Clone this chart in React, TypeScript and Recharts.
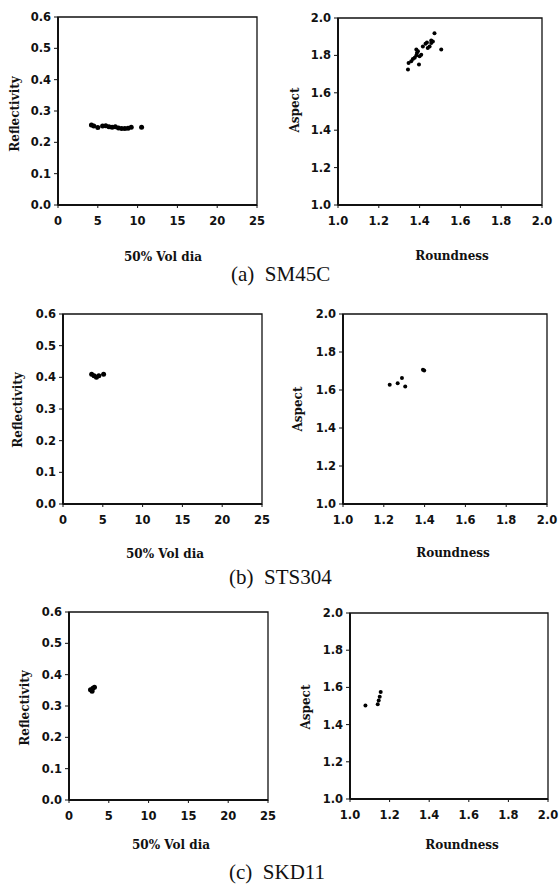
import React from 'react';
import { ScatterChart, Scatter, XAxis, YAxis, ReferenceArea } from 'recharts';

// ---- tick labels ----
const diaTicks = [0, 5, 10, 15, 20, 25];
const reflTicks = [0, 0.1, 0.2, 0.3, 0.4, 0.5, 0.6];
const roundTicks = [1.0, 1.2, 1.4, 1.6, 1.8, 2.0];
const aspectTicks = [1.0, 1.2, 1.4, 1.6, 1.8, 2.0];

// ---- (a) SM45C ----
const sm45cDia = [4.2, 4.5, 5.0, 5.6, 6.0, 6.4, 6.8, 7.2, 7.6, 8.0, 8.4, 8.8, 9.2, 10.5];
const sm45cRefl = [0.255, 0.252, 0.247, 0.252, 0.253, 0.25, 0.248, 0.25, 0.246, 0.244, 0.244, 0.245, 0.248, 0.248];
const sm45cRound = [1.343, 1.346, 1.359, 1.367, 1.376, 1.384, 1.387, 1.384, 1.397, 1.4, 1.408, 1.392, 1.416, 1.429, 1.436, 1.44, 1.449, 1.457, 1.465, 1.457, 1.473, 1.506];
const sm45cAspect = [1.725, 1.76, 1.769, 1.781, 1.787, 1.8, 1.813, 1.831, 1.751, 1.795, 1.804, 1.822, 1.848, 1.862, 1.869, 1.84, 1.848, 1.866, 1.875, 1.88, 1.919, 1.831];

// ---- (b) STS304 ----
const sts304Dia = [3.6, 3.9, 4.2, 4.5, 5.1];
const sts304Refl = [0.41, 0.405, 0.4, 0.405, 0.41];
const sts304Round = [1.229, 1.268, 1.289, 1.305, 1.392, 1.398];
const sts304Aspect = [1.628, 1.635, 1.663, 1.619, 1.707, 1.703];

// ---- (c) SKD11 ----
const skd11Dia = [2.7, 2.9, 3.0, 3.2];
const skd11Refl = [0.352, 0.347, 0.357, 0.36];
const skd11Round = [1.078, 1.14, 1.145, 1.15, 1.155];
const skd11Aspect = [1.503, 1.51, 1.53, 1.55, 1.575];

const zip = (xs: number[], ys: number[]) => xs.map((x, i) => ({ x, y: ys[i] }));

const TICK_FONT = { fontSize: 11.5, fontFamily: 'DejaVu Sans', fontWeight: 'bold', fill: '#111' } as any;
const LABEL_FONT: React.CSSProperties = {
  position: 'absolute',
  fontFamily: 'DejaVu Serif',
  fontWeight: 'bold',
  fontSize: 12,
  color: '#111',
  whiteSpace: 'nowrap',
  lineHeight: '14px',
};

type PanelProps = {
  box: [number, number, number, number];
  xDomain: [number, number];
  xTicks: number[];
  xFmt: (v: number) => string;
  yDomain: [number, number];
  yTicks: number[];
  data: { x: number; y: number }[];
  r: number;
};

function Panel({ box, xDomain, xTicks, xFmt, yDomain, yTicks, data, r }: PanelProps) {
  const [x0, y0, x1, y1] = box;
  const YW = 45;
  const XH = 30;
  const T = 8;
  const RM = 12;
  return (
    <div style={{ position: 'absolute', left: x0 - YW, top: y0 - T }}>
      <ScatterChart
        width={x1 - x0 + YW + RM}
        height={y1 - y0 + T + XH}
        margin={{ top: T, right: RM, left: 0, bottom: 0 }}
      >
        <ReferenceArea
          x1={xDomain[0]}
          x2={xDomain[1]}
          y1={yDomain[0]}
          y2={yDomain[1]}
          fill="none"
          fillOpacity={0}
          stroke="#111"
          strokeWidth={1.3}
        />
        <XAxis
          type="number"
          dataKey="x"
          domain={xDomain}
          ticks={xTicks}
          tickFormatter={xFmt}
          height={XH}
          tickSize={3}
          tickMargin={9}
          interval={0}
          axisLine={{ stroke: '#111', strokeWidth: 2 }}
          tickLine={{ stroke: '#111', strokeWidth: 1 }}
          tick={TICK_FONT}
          allowDecimals
        />
        <YAxis
          type="number"
          dataKey="y"
          domain={yDomain}
          ticks={yTicks}
          tickFormatter={(v: number) => v.toFixed(1)}
          width={YW}
          tickSize={4}
          tickMargin={3}
          interval={0}
          axisLine={{ stroke: '#111', strokeWidth: 2 }}
          tickLine={{ stroke: '#111', strokeWidth: 1 }}
          tick={TICK_FONT}
        />
        <Scatter
          data={data}
          isAnimationActive={false}
          fill="#000"
          shape={(p: any) => <circle cx={p.cx} cy={p.cy} r={r} fill="#000" />}
        />
      </ScatterChart>
    </div>
  );
}

function HLabel({ text, cx, cy }: { text: string; cx: number; cy: number }) {
  return (
    <div style={{ ...LABEL_FONT, left: cx, top: cy, transform: 'translate(-50%, -50%)' }}>{text}</div>
  );
}

function VLabel({ text, cx, cy }: { text: string; cx: number; cy: number }) {
  return (
    <div
      style={{
        ...LABEL_FONT,
        left: cx,
        top: cy,
        transform: 'translate(-50%, -50%) rotate(-90deg)',
      }}
    >
      {text}
    </div>
  );
}

function Caption({ tag, name, left, cy }: { tag: string; name: string; left: number; cy: number }) {
  return (
    <div
      style={{
        position: 'absolute',
        left,
        top: cy - 13,
        fontFamily: 'Liberation Serif',
        fontSize: 21,
        lineHeight: '26px',
        color: '#111',
        whiteSpace: 'pre',
      }}
    >
      {tag + '  ' + name}
    </div>
  );
}

const diaFmt = (v: number) => String(v);
const roundFmt = (v: number) => v.toFixed(1);

export default function App() {
  return (
    <div
      style={{
        position: 'absolute',
        left: 0,
        top: 0,
        width: 560,
        height: 892,
        overflow: 'hidden',
        background: '#fff',
      }}
    >
      {/* Row (a) */}
      <Panel box={[58, 17, 257, 205]} xDomain={[0, 25]} xTicks={diaTicks} xFmt={diaFmt} yDomain={[0, 0.6]} yTicks={reflTicks} data={zip(sm45cDia, sm45cRefl)} r={2.5} />
      <Panel box={[338, 18, 542, 205]} xDomain={[1, 2]} xTicks={roundTicks} xFmt={roundFmt} yDomain={[1, 2]} yTicks={aspectTicks} data={zip(sm45cRound, sm45cAspect)} r={2} />
      <VLabel text="Reflectivity" cx={15} cy={114} />
      <VLabel text="Aspect" cx={295} cy={110} />
      <HLabel text="50% Vol dia" cx={163} cy={257} />
      <HLabel text="Roundness" cx={452} cy={256} />
      <Caption tag="(a)" name="SM45C" left={231} cy={274} />

      {/* Row (b) */}
      <Panel box={[63, 314, 262, 504]} xDomain={[0, 25]} xTicks={diaTicks} xFmt={diaFmt} yDomain={[0, 0.6]} yTicks={reflTicks} data={zip(sts304Dia, sts304Refl)} r={2.5} />
      <Panel box={[343, 314, 547, 504]} xDomain={[1, 2]} xTicks={roundTicks} xFmt={roundFmt} yDomain={[1, 2]} yTicks={aspectTicks} data={zip(sts304Round, sts304Aspect)} r={2} />
      <VLabel text="Reflectivity" cx={18} cy={410} />
      <VLabel text="Aspect" cx={298} cy={409} />
      <HLabel text="50% Vol dia" cx={165} cy={554} />
      <HLabel text="Roundness" cx={453} cy={553} />
      <Caption tag="(b)" name="STS304" left={229} cy={577} />

      {/* Row (c) */}
      <Panel box={[69, 612, 268, 800]} xDomain={[0, 25]} xTicks={diaTicks} xFmt={diaFmt} yDomain={[0, 0.6]} yTicks={reflTicks} data={zip(skd11Dia, skd11Refl)} r={2.5} />
      <Panel box={[350, 613, 548, 799]} xDomain={[1, 2]} xTicks={roundTicks} xFmt={roundFmt} yDomain={[1, 2]} yTicks={aspectTicks} data={zip(skd11Round, skd11Aspect)} r={2} />
      <VLabel text="Reflectivity" cx={25} cy={708} />
      <VLabel text="Aspect" cx={306} cy={707} />
      <HLabel text="50% Vol dia" cx={171} cy={845} />
      <HLabel text="Roundness" cx={462} cy={845} />
      <Caption tag="(c)" name="SKD11" left={229} cy={872} />
    </div>
  );
}
